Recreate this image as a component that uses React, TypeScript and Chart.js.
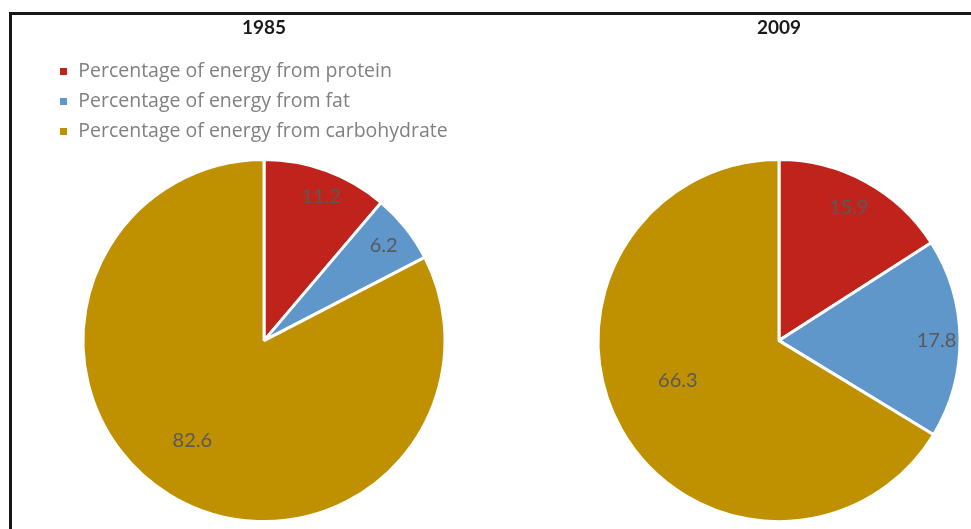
import React, { useEffect, useRef } from "react";
import { Chart, registerables } from "chart.js";

Chart.register(...registerables);

// ---- data ----
const categories = [
  "Percentage of energy from protein",
  "Percentage of energy from fat",
  "Percentage of energy from carbohydrate",
];
const years = ["1985", "2009"];
const values1985 = [11.2, 6.2, 82.6];
const values2009 = [15.9, 17.8, 66.3];

// ---- style ----
const sliceColors = ["#C0231B", "#5F97CB", "#BF9000"];
const FONT = "Lato, 'Open Sans', sans-serif";
const LEGEND_FONT = "'Open Sans', Lato, sans-serif";
// value-label placement (fraction of radius, angle tweak in degrees)
const labelPlace1985 = { frac: [0.855, 0.845, 0.68], dAng: [1.5, 0, 4.3] };
const labelPlace2009 = { frac: [0.83, 0.87, 0.6], dAng: [-1, 0.7, 8] };

const valueLabelPlugin = {
  id: "valueLabels",
  afterDatasetsDraw(chart: any) {
    const place = chart.options.plugins.valueLabels;
    const ctx = chart.ctx;
    const meta = chart.getDatasetMeta(0);
    const data = chart.data.datasets[0].data;
    ctx.save();
    ctx.font = `20px ${FONT}`;
    ctx.fillStyle = "#595959";
    ctx.textAlign = "center";
    ctx.textBaseline = "middle";
    meta.data.forEach((arc: any, i: number) => {
      const mid = (arc.startAngle + arc.endAngle) / 2 + (place.dAng[i] * Math.PI) / 180;
      const r = arc.outerRadius * place.frac[i];
      ctx.fillText(String(data[i]), arc.x + Math.cos(mid) * r, arc.y + Math.sin(mid) * r);
    });
    ctx.restore();
  },
};

function makeConfig(title: string, values: number[], showLegend: boolean, place: any, padBottom: number) {
  return {
    type: "pie" as const,
    data: {
      labels: categories,
      datasets: [
        {
          data: values,
          backgroundColor: sliceColors,
          borderColor: "#ffffff",
          borderWidth: 3,
          radius: 181,
          hoverOffset: 0,
        },
      ],
    },
    options: {
      responsive: false,
      animation: false as const,
      layout: { padding: { top: 0, left: 48, right: 48, bottom: padBottom } },
      plugins: {
        tooltip: { enabled: false },
        title: {
          display: true,
          text: title,
          color: "#1a1a1a",
          font: { family: FONT, size: 19, weight: "bold" as const, lineHeight: 1.2 },
          padding: { top: 16, bottom: 12.4 },
        },
        legend: {
          display: showLegend,
          position: "top" as const,
          align: "start" as const,
          labels: {
            boxWidth: 10,
            boxHeight: 10,
            padding: 10.5,
            color: "#808080",
            font: { family: LEGEND_FONT, size: 19.5 },
          },
        },
        valueLabels: place,
      },
    },
    plugins: [valueLabelPlugin],
  };
}

function PieChart({ title, values, showLegend, place, padBottom, left }: any) {
  const ref = useRef<HTMLCanvasElement>(null);
  useEffect(() => {
    if (!ref.current) return;
    const chart = new Chart(ref.current, makeConfig(title, values, showLegend, place, padBottom) as any);
    return () => chart.destroy();
  }, []);
  return (
    <canvas
      ref={ref}
      width={528}
      height={700}
      style={{ position: "absolute", left, top: 0, display: "block", width: 528, height: 700 }}
    />
  );
}

export default function App() {
  return (
    <div
      style={{
        position: "fixed",
        left: 0,
        top: 0,
        width: 971,
        height: 529,
        overflow: "hidden",
        background: "#ffffff",
      }}
    >
      <div
        style={{
          position: "absolute",
          left: 9,
          top: 12,
          right: -10,
          bottom: -10,
          borderLeft: "3px solid #161616",
          borderTop: "3px solid #161616",
        }}
      />
      <PieChart title={years[0]} values={values1985} showLegend={true} place={labelPlace1985} padBottom={170} left={0} />
      <PieChart title={years[1]} values={values2009} showLegend={false} place={labelPlace2009} padBottom={70} left={515} />
    </div>
  );
}
